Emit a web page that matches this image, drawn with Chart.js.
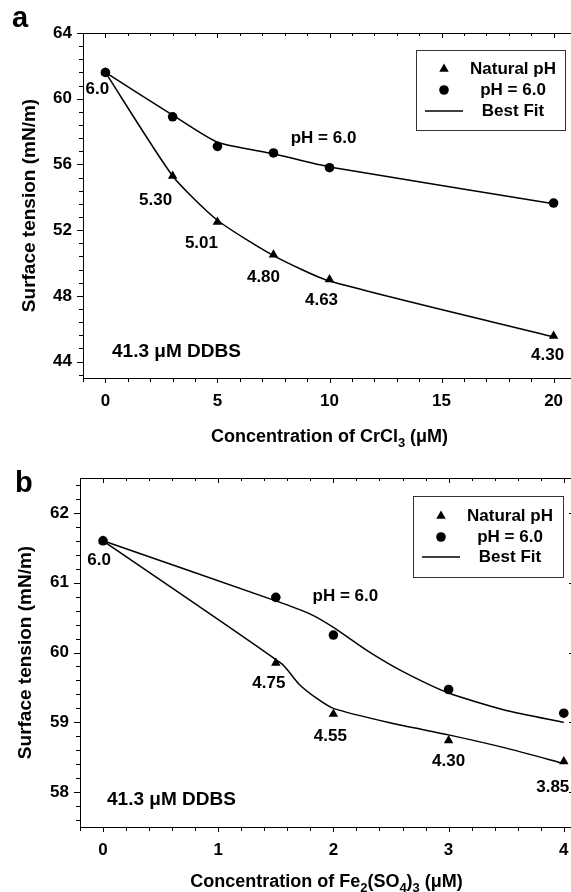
<!DOCTYPE html>
<html>
<head>
<meta charset="utf-8">
<script src="https://cdn.jsdelivr.net/npm/chart.js@4.4.1/dist/chart.umd.min.js"></script>
<style>
  body { margin: 0; background: #fff; width: 571px; height: 892px; overflow: hidden; position: relative; }
  canvas { position: absolute; left: 0; }
</style>
</head>
<body>
<canvas id="chartA" width="600" height="455" style="top:0"></canvas>
<canvas id="chartB" width="600" height="452" style="top:440px"></canvas>
<script>
// panel a: CrCl3
var crConc = [0, 3, 5, 7.5, 10, 20];
var crNatural = [61.6, 55.3, 52.5, 50.5, 49.0, 45.55];
var crPh6 = [61.6, 58.9, 57.1, 56.7, 55.8, 53.65];
var crNaturalFit = [61.6, 55.3, 52.6, 50.45, 48.9, 45.5];
var crPh6Fit = [61.6, 59.0, 57.35, 56.65, 55.85, 53.6];
var crPhLabels = ["6.0", "5.30", "5.01", "4.80", "4.63", "4.30"];

// panel b: Fe2(SO4)3
var feConc = [0, 1.5, 2, 3, 4];
var feNatural = [61.6, 59.85, 59.12, 58.74, 58.44];
var fePh6 = [61.6, 60.79, 60.25, 59.47, 59.13];
var feNaturalFitX = [0, 1.55, 1.7, 1.85, 2, 2.5, 3, 3.5, 4];
var feNaturalFit = [61.6, 59.84, 59.55, 59.35, 59.2, 58.99, 58.82, 58.63, 58.41];
var fePh6FitX = [0, 1.5, 1.8, 2, 2.3, 2.6, 3, 3.5, 4];
var fePh6Fit = [61.6, 60.74, 60.55, 60.36, 60.02, 59.73, 59.42, 59.17, 59.0];
var fePhLabels = ["6.0", "4.75", "4.55", "4.30", "3.85"];

var FONT = "'Liberation Sans', Arial, sans-serif";
Chart.defaults.font.family = FONT;
Chart.defaults.font.weight = 'bold';
Chart.defaults.font.size = 17;
Chart.defaults.color = '#000';

function pts(xs, ys) {
    return xs.map(function (x, i) { return {x: x, y: ys[i]}; });
}

function tickList(from, to, step) {
    return function (scale) {
        var t = [];
        for (var i = 0; from + i * step <= to + 1e-9; i++) {
            t.push({value: Math.round((from + i * step) * 100) / 100});
        }
        scale.ticks = t;
    };
}

// top/right border and all the tick marks (major ones longer)
var framePlugin = {
    id: 'frame',
    afterDraw: function (chart) {
        var ctx = chart.ctx, a = chart.chartArea, xs = chart.scales.x, ys = chart.scales.y;
        ctx.save();
        ctx.strokeStyle = '#000';
        ctx.lineWidth = 1;
        ctx.beginPath();
        ctx.moveTo(a.left, a.top + 0.5); ctx.lineTo(a.right, a.top + 0.5);
        ctx.moveTo(a.right - 0.5, a.top); ctx.lineTo(a.right - 0.5, a.bottom);
        xs.ticks.forEach(function (t) {
            var p = Math.round(xs.getPixelForValue(t.value)) + 0.5;
            var major = t.label !== '';
            ctx.moveTo(p, a.bottom); ctx.lineTo(p, a.bottom + (major ? 5 : 4));
            ctx.moveTo(p, a.top); ctx.lineTo(p, a.top + (major ? 5 : 3));
        });
        ys.ticks.forEach(function (t) {
            var p = Math.round(ys.getPixelForValue(t.value)) + 0.5;
            var major = t.label !== '';
            ctx.moveTo(a.left, p); ctx.lineTo(a.left - (major ? 6 : 4), p);
            if (major) { ctx.moveTo(a.right, p); ctx.lineTo(a.right - 4, p); }
        });
        ctx.stroke();
        ctx.restore();
    }
};

function notesPlugin(o) {
    return {
        id: 'notes',
        afterDatasetsDraw: function (chart) {
            var ctx = chart.ctx, a = chart.chartArea, xs = chart.scales.x, ys = chart.scales.y;
            ctx.save();
            ctx.fillStyle = '#000';
            ctx.font = "bold 17px " + FONT;
            ctx.textAlign = 'center';
            ctx.textBaseline = 'middle';
            // pH value under each natural pH point
            o.labels.forEach(function (txt, i) {
                var off = o.offsets[i];
                ctx.fillText(txt, xs.getPixelForValue(o.xs[i]) + off[0], ys.getPixelForValue(o.ys[i]) + off[1]);
            });
            // "pH = 6.0" over the upper curve
            ctx.fillText('pH = 6.0', xs.getPixelForValue(o.phAt[0]) + o.phAt[2], ys.getPixelForValue(o.phAt[1]) + o.phAt[3]);
            // DDBS note
            ctx.textAlign = 'left';
            ctx.font = "bold 19px " + FONT;
            ctx.fillText('41.3 \u03bcM DDBS', a.left + o.ddbs[0], a.bottom - o.ddbs[1]);

            // panel letter
            ctx.font = "bold 29px " + FONT;
            ctx.textBaseline = 'alphabetic';
            ctx.fillText(o.letter, o.letterPos[0], o.letterPos[1]);

            // x title with subscripts
            var parts = o.xTitle, main = "bold 18px " + FONT, sub = "bold 13px " + FONT, w = 0;
            parts.forEach(function (p) { ctx.font = p[1] ? sub : main; w += ctx.measureText(p[0]).width; });
            var x = (a.left + a.right) / 2 - w / 2;
            parts.forEach(function (p) {
                ctx.font = p[1] ? sub : main;
                ctx.fillText(p[0], x, o.xTitleY + (p[1] ? 5 : 0));
                x += ctx.measureText(p[0]).width;
            });
            ctx.restore();
        }
    };
}

function legendPlugin(o) {
    return {
        id: 'boxLegend',
        afterDraw: function (chart) {
            var ctx = chart.ctx, a = chart.chartArea;
            var bx = a.right - o.right - o.w, by = a.top + o.top;
            ctx.save();
            ctx.strokeStyle = '#333';
            ctx.lineWidth = 1;
            ctx.strokeRect(Math.round(bx) + 0.5, Math.round(by) + 0.5, o.w, o.h);
            var seen = {}, row = 0;
            ctx.font = "bold 17px " + FONT;
            ctx.textAlign = 'center';
            ctx.textBaseline = 'middle';
            chart.data.datasets.forEach(function (ds) {
                if (seen[ds.label]) return;
                seen[ds.label] = true;
                var y = by + o.rows[row++];
                ctx.fillStyle = '#000';
                ctx.strokeStyle = '#000';
                if (ds.showLine) {
                    ctx.lineWidth = 1.5;
                    ctx.beginPath();
                    ctx.moveTo(bx + 9, y); ctx.lineTo(bx + 47, y);
                    ctx.stroke();
                } else {
                    Chart.helpers.drawPoint(ctx, {pointStyle: ds.pointStyle, radius: ds.pointRadius, rotation: 0, borderWidth: 0}, bx + 28, y);
                }
                ctx.fillText(ds.label, bx + 97, y);
            });
            ctx.restore();
        }
    };
}

function pointSet(label, data, style, r) {
    return {label: label, data: data, showLine: false, pointStyle: style, pointRadius: r,
        backgroundColor: '#000', borderColor: '#000', borderWidth: 0, order: 1};
}
function fitSet(data) {
    return {label: 'Best Fit', data: data, showLine: true, pointRadius: 0, borderColor: '#000',
        borderWidth: 1.5, tension: 0.2, fill: false, order: 2};
}

function axes(xmin, xmax, xstep, xmajor, ymin, ymax, yfrom, ystep, ymajor, yWidth, xHeight, titlePad) {
    return {
        x: {
            type: 'linear', min: xmin, max: xmax,
            afterBuildTicks: tickList(xmin, xmax, xstep),
            afterFit: function (s) { s.height = xHeight; },
            grid: {display: false, drawTicks: false},
            border: {display: true, color: '#000', width: 1},
            ticks: {autoSkip: false, maxRotation: 0, padding: 13,
                callback: function (v) { return Math.abs(v / xmajor - Math.round(v / xmajor)) < 1e-6 ? String(Math.round(v)) : ''; }}
        },
        y: {
            type: 'linear', min: ymin, max: ymax,
            afterBuildTicks: tickList(yfrom, ymax, ystep),
            afterFit: function (s) { s.width = yWidth; },
            grid: {display: false, drawTicks: false},
            border: {display: true, color: '#000', width: 1},
            ticks: {autoSkip: false, padding: 11,
                callback: function (v) { return Math.abs(v / ymajor - Math.round(v / ymajor)) < 1e-6 ? String(Math.round(v)) : ''; }},
            title: {display: true, text: 'Surface tension (mN/m)', font: {size: 19, weight: 'bold'}, padding: {top: titlePad}}
        }
    };
}

new Chart(document.getElementById('chartA'), {
    type: 'scatter',
    data: {
        datasets: [
            pointSet('Natural pH', pts(crConc, crNatural), 'triangle', 5.5),
            pointSet('pH = 6.0', pts(crConc, crPh6), 'circle', 4.8),
            fitSet(pts(crConc, crPh6Fit)),
            fitSet(pts(crConc, crNaturalFit))
        ]
    },
    options: {
        responsive: false,
        animation: false,
        events: [],
        layout: {padding: {top: 33, right: 24, left: 0, bottom: 0}},
        plugins: {legend: {display: false}, tooltip: {enabled: false}},
        scales: axes(-1, 21, 1, 5, 43, 64, 43.2, 0.8, 4, 83, 77, 18)
    },
    plugins: [framePlugin, legendPlugin({right: 11, top: 17, w: 149, h: 80, rows: [19, 40, 61]}),
        notesPlugin({
            labels: crPhLabels, xs: crConc, ys: crNatural,
            offsets: [[-8, 17], [-17, 24], [-16, 21], [-10, 23], [-8, 21], [-6, 19]],
            phAt: [10, 55.8, -6, -29],
            ddbs: [29, 26],
            letter: 'a', letterPos: [12, 27],
            xTitle: [['Concentration of CrCl', 0], ['3', 1], [' (\u03bcM)', 0]],
            xTitleY: 442
        })]
});

new Chart(document.getElementById('chartB'), {
    type: 'scatter',
    data: {
        datasets: [
            pointSet('Natural pH', pts(feConc, feNatural), 'triangle', 5.5),
            pointSet('pH = 6.0', pts(feConc, fePh6), 'circle', 4.8),
            fitSet(pts(fePh6FitX, fePh6Fit)),
            fitSet(pts(feNaturalFitX, feNaturalFit))
        ]
    },
    options: {
        responsive: false,
        animation: false,
        events: [],
        layout: {padding: {top: 38, right: 27, left: 0, bottom: 0}},
        plugins: {legend: {display: false}, tooltip: {enabled: false}},
        scales: axes(-0.2, 4.08, 0.2, 1, 57.5, 62.5, 57.6, 0.2, 1, 80, 65, 14)
    },
    plugins: [framePlugin, legendPlugin({right: 10, top: 18, w: 150, h: 81, rows: [20, 41, 61]}),
        notesPlugin({
            labels: fePhLabels, xs: feConc, ys: feNatural,
            offsets: [[-4, 19], [-7, 20], [-3, 22], [0, 21], [-11, 26]],
            phAt: [2, 60.25, 12, -39],
            ddbs: [27, 27],
            letter: 'b', letterPos: [15, 52],
            xTitle: [['Concentration of Fe', 0], ['2', 1], ['(SO', 0], ['4', 1], [')', 0], ['3', 1], [' (\u03bcM)', 0]],
            xTitleY: 447
        })]
});
</script>
</body>
</html>
